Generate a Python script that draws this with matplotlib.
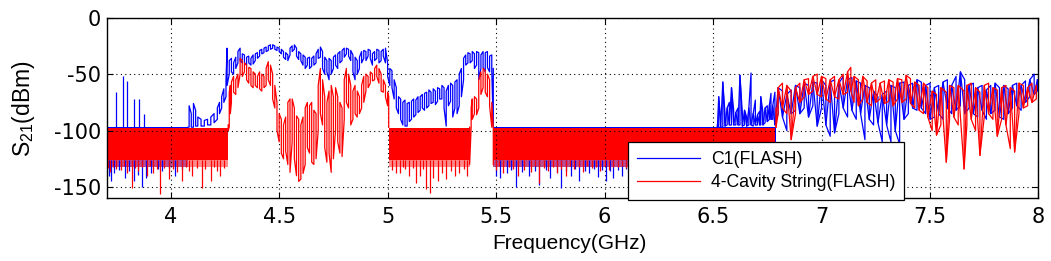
import numpy as np
import matplotlib
matplotlib.use("Agg")
import matplotlib.pyplot as plt

plt.rcParams['font.family'] = ['Liberation Sans', 'DejaVu Sans']
plt.rcParams['mathtext.default'] = 'regular'

BLUE = (0.0, 0.0, 1.0)
RED = (1.0, 0.0, 0.0)

LABEL_C1 = "C1(FLASH)"
LABEL_4C = "4-Cavity String(FLASH)"
XLABEL = "Frequency(GHz)"
YLABEL = r"S$_{21}$(dBm)"
XTICKS = [4, 4.5, 5, 5.5, 6, 6.5, 7, 7.5, 8]
XTICKLABELS = ["4", "4.5", "5", "5.5", "6", "6.5", "7", "7.5", "8"]
YTICKS = [0, -50, -100, -150]
YTICKLABELS = ["0", "-50", "-100", "-150"]
XLIM = (3.705, 8.0)
YLIM = (-160, 0)

# ---------------- C1 (FLASH), blue ----------------
c1_floor_segments = [(3.705, 4.08), (5.487, 6.52), (6.52, 6.79)]
c1_floor_top = -96.5
c1_floor_bottom = -126.0
c1_floor_fringe = -132.0
c1_dip_f = [3.715, 3.725, 3.74, 3.76, 3.79, 3.81, 3.83, 3.85, 3.866, 3.885, 3.91, 3.94, 3.96, 3.99, 4.02, 4.05,
            5.50, 5.52, 5.55, 5.57, 5.593, 5.62, 5.65, 5.68, 5.70, 5.73, 5.75, 5.78, 5.80, 5.82, 5.845, 5.865,
            5.884, 5.91, 5.93, 5.95, 5.97, 5.99, 6.007, 6.025, 6.04, 6.06, 6.08, 6.10]
c1_dip_db = [-140, -145, -138, -135, -142, -136, -145, -139, -150, -142, -138, -134, -136, -133, -140, -134,
             -140, -142, -138, -135, -150, -137, -140, -136, -148, -135, -142, -137, -151, -136, -140, -134,
             -145, -136, -138, -134, -141, -135, -145, -136, -142, -135, -140, -134]
c1_spike_f = [3.75, 3.778, 3.80, 3.833, 3.856, 3.875]
c1_spike_db = [-66, -52, -56, -72, -72, -85]

c1_a_f = [4.080, 4.085, 4.095, 4.105, 4.115, 4.125, 4.14, 4.155, 4.17, 4.185, 4.20, 4.215, 4.225, 4.235, 4.245,
          4.255, 4.26, 4.27, 4.28, 4.29, 4.30, 4.31, 4.32, 4.33, 4.34, 4.35, 4.36, 4.37, 4.38, 4.39, 4.40,
          4.41, 4.42, 4.43, 4.44, 4.45, 4.46, 4.47, 4.48, 4.49, 4.50, 4.51, 4.52, 4.53, 4.54, 4.55, 4.56,
          4.57, 4.58, 4.59, 4.60, 4.61, 4.62, 4.63, 4.64, 4.65, 4.66, 4.67, 4.68, 4.69, 4.70, 4.71, 4.72,
          4.73, 4.74, 4.75, 4.76, 4.77, 4.78, 4.79, 4.80, 4.81, 4.82, 4.83, 4.84, 4.85, 4.86, 4.87, 4.88,
          4.89, 4.90, 4.91, 4.92, 4.93, 4.94, 4.95, 4.96, 4.97, 4.98, 4.99, 5.00, 5.01, 5.02, 5.03, 5.04,
          5.05, 5.06, 5.07, 5.08, 5.09, 5.10, 5.11, 5.12, 5.13, 5.14, 5.15, 5.16, 5.17, 5.18, 5.19, 5.20,
          5.21, 5.22, 5.23, 5.24, 5.25, 5.26, 5.27, 5.28, 5.29, 5.30, 5.31, 5.32, 5.33, 5.34, 5.35, 5.36,
          5.37, 5.38, 5.39, 5.40, 5.41, 5.42, 5.43, 5.44, 5.45, 5.46, 5.47, 5.48, 5.487]
c1_a_hi = [-97, -78, -85, -76, -82, -88, -90, -91, -90, -88, -85, -80, -75, -70, -63,
           -55, -27, -38, -36, -40, -35, -30, -27, -32, -33, -35, -34, -36, -33, -32, -31,
           -29, -28, -27, -26, -25, -24, -24, -25, -26, -27, -28, -30, -31, -33, -27, -25,
           -24, -27, -30, -32, -33, -35, -36, -35, -36, -34, -32, -28, -26, -30, -35, -38,
           -36, -38, -35, -33, -32, -30, -29, -27, -27, -28, -29, -33, -35, -38, -35, -30,
           -29, -30, -28, -29, -32, -30, -28, -29, -30, -28, -27, -40, -45, -47, -55, -62,
           -70, -72, -75, -73, -76, -75, -74, -72, -73, -70, -70, -68, -67, -66, -64, -66,
           -63, -65, -62, -63, -60, -62, -65, -60, -58, -60, -57, -55, -50, -45, -36, -33,
           -31, -32, -30, -32, -30, -31, -33, -30, -31, -30, -34, -33, -45]
c1_a_lo = [-97, -97, -97, -97, -96, -96, -96, -96, -95, -95, -93, -90, -85, -80, -75,
           -70, -60, -50, -48, -50, -45, -40, -38, -40, -40, -42, -40, -42, -41, -38, -36,
           -34, -32, -31, -30, -29, -28, -27, -28, -29, -30, -32, -35, -37, -38, -33, -30,
           -28, -34, -37, -38, -42, -45, -42, -45, -43, -42, -40, -36, -35, -45, -50, -48,
           -55, -50, -45, -42, -45, -40, -38, -35, -32, -34, -38, -48, -55, -50, -45, -40,
           -36, -38, -34, -36, -42, -38, -36, -40, -38, -34, -40, -52, -60, -62, -72, -80,
           -85, -90, -95, -96, -96, -92, -90, -88, -86, -84, -82, -80, -82, -80, -78, -76,
           -75, -77, -74, -72, -72, -80, -96, -78, -74, -88, -80, -85, -78, -70, -55, -42,
           -40, -40, -38, -45, -42, -55, -45, -44, -48, -44, -48, -47, -97]

c1_b_f = [6.52, 6.526, 6.535, 6.545, 6.555, 6.565, 6.575, 6.585, 6.595, 6.605, 6.615, 6.624, 6.635, 6.645,
          6.655, 6.665, 6.675, 6.685, 6.695, 6.705, 6.715, 6.72, 6.73, 6.74, 6.75, 6.76, 6.767, 6.775, 6.785,
          6.80, 6.82, 6.84, 6.86, 6.88, 6.90, 6.92, 6.94, 6.96, 6.98, 7.00, 7.02, 7.04, 7.06, 7.08, 7.10,
          7.12, 7.14, 7.16, 7.18, 7.20, 7.22, 7.24, 7.26, 7.28, 7.30, 7.32, 7.34, 7.36, 7.38, 7.40, 7.42,
          7.44, 7.46, 7.48, 7.50, 7.52, 7.54, 7.56, 7.58, 7.60, 7.62, 7.64, 7.66, 7.68, 7.70, 7.72, 7.74,
          7.76, 7.78, 7.80, 7.82, 7.84, 7.86, 7.88, 7.90, 7.92, 7.94, 7.96, 7.98, 7.995]
c1_b_hi = [-95, -70, -90, -57, -85, -80, -75, -62, -82, -84, -80, -51, -85, -82,
           -88, -80, -49, -85, -73, -86, -83, -70, -84, -80, -78, -77, -67, -78, -66,
           -62, -65, -68, -64, -60, -62, -58, -60, -57, -58, -55, -60, -57, -55, -58, -52,
           -55, -53, -56, -58, -60, -62, -65, -70, -68, -65, -60, -62, -58, -57, -60, -58,
           -55, -57, -60, -58, -62, -60, -57, -55, -60, -52, -48, -55, -60, -58, -62, -60,
           -64, -60, -58, -62, -60, -63, -60, -58, -60, -56, -55, -50, -55]
c1_b_lo = [-97, -97, -97, -97, -96, -95, -95, -95, -95, -95, -95, -95, -96, -95,
           -96, -95, -95, -96, -95, -95, -95, -95, -95, -93, -92, -90, -90, -90, -95,
           -85, -88, -100, -85, -82, -85, -80, -88, -78, -96, -80, -95, -105, -102, -85, -80,
           -88, -82, -90, -85, -108, -90, -95, -93, -110, -95, -110, -100, -112, -90, -85, -80,
           -82, -80, -85, -90, -88, -85, -90, -80, -85, -82, -78, -85, -80, -85, -88, -82,
           -90, -85, -82, -88, -90, -85, -80, -78, -82, -75, -70, -68, -65]

# ---------------- 4-Cavity String (FLASH), red ----------------
r_floor_segments = [(3.705, 4.265), (5.005, 5.378), (5.487, 6.787)]
r_floor_top = -97.5
r_floor_bottom = -126.0
r_floor_fringe = -132.0
r_dip_f = [3.71, 3.72, 3.735, 3.75, 3.77, 3.785, 3.80, 3.82, 3.835, 3.85, 3.87, 3.89, 3.905, 3.92, 3.935,
           3.952, 3.97, 3.99, 4.01, 4.03, 4.05, 4.07, 4.085, 4.10, 4.12, 4.143, 4.16, 4.184, 4.20, 4.215, 4.227, 4.245,
           5.02, 5.04, 5.056, 5.07, 5.08, 5.10, 5.115, 5.13, 5.15, 5.165, 5.178, 5.194, 5.21, 5.23, 5.25, 5.27,
           5.29, 5.31, 5.33, 5.35, 5.366,
           5.50, 5.515, 5.53, 5.56, 5.58, 5.60, 5.63, 5.66, 5.68, 5.70, 5.72, 5.74, 5.76, 5.78, 5.80, 5.82,
           5.84, 5.86, 5.88, 5.90, 5.92, 5.94, 5.96, 5.98, 6.00, 6.02, 6.04, 6.06, 6.08, 6.10]
r_dip_db = [-133, -137, -132, -134, -135, -131, -138, -151, -133, -136, -132, -140, -131, -138, -134,
            -156, -133, -143, -134, -137, -145, -132, -136, -140, -133, -151, -134, -145, -132, -136, -140, -133,
            -135, -138, -138, -132, -134, -140, -133, -146, -140, -134, -152, -155, -142, -145, -138, -143,
            -136, -140, -138, -134, -140,
            -135, -131, -138, -132, -134, -140, -135, -137, -131, -146, -133, -136, -132, -138, -134, -140,
            -131, -134, -132, -137, -131, -133, -132, -136, -131, -135, -132, -132, -131, -133]

r_a_f = [4.265, 4.27, 4.275, 4.28, 4.29, 4.30, 4.31, 4.32, 4.33, 4.34, 4.35, 4.36, 4.37, 4.38, 4.39,
         4.40, 4.41, 4.42, 4.43, 4.44, 4.45, 4.46, 4.47, 4.48, 4.49, 4.50, 4.51, 4.52, 4.53, 4.54, 4.55,
         4.56, 4.57, 4.58, 4.59, 4.60, 4.61, 4.62, 4.63, 4.64, 4.65, 4.66, 4.67, 4.68, 4.69, 4.70, 4.71,
         4.72, 4.73, 4.74, 4.75, 4.76, 4.77, 4.78, 4.79, 4.80, 4.81, 4.82, 4.83, 4.84, 4.85, 4.86, 4.87,
         4.88, 4.89, 4.90, 4.91, 4.92, 4.93, 4.94, 4.95, 4.96, 4.97, 4.98, 4.99, 5.00, 5.005]
r_a_hi = [-95, -66, -60, -57, -52, -55, -50, -36, -38, -40, -42, -44, -45, -48, -50,
          -52, -48, -50, -52, -45, -39, -42, -50, -60, -75, -85, -90, -95, -88, -75, -72,
          -72, -80, -87, -90, -95, -88, -80, -75, -78, -75, -82, -85, -60, -45, -55, -70,
          -75, -65, -60, -70, -62, -70, -75, -80, -55, -45, -50, -60, -65, -60, -65, -70,
          -60, -52, -50, -52, -48, -50, -45, -42, -45, -50, -55, -60, -66, -70]
r_a_lo = [-100, -97, -85, -75, -66, -68, -62, -50, -52, -48, -55, -58, -60, -62, -60,
          -62, -63, -65, -62, -60, -55, -60, -72, -80, -100, -110, -120, -125, -118, -130, -137,
          -110, -125, -140, -145, -143, -138, -130, -115, -120, -128, -130, -125, -100, -85, -95, -115,
          -128, -120, -137, -125, -100, -110, -120, -123, -90, -75, -80, -95, -90, -85, -88, -85,
          -80, -75, -65, -62, -58, -56, -55, -52, -58, -65, -66, -70, -78, -97]

r_b_f = [5.378, 5.385, 5.39, 5.40, 5.41, 5.42, 5.43, 5.44, 5.45, 5.46, 5.47, 5.48, 5.487]
r_b_hi = [-97, -80, -72, -70, -72, -55, -48, -45, -47, -50, -55, -75, -97]
r_b_lo = [-130, -97, -90, -85, -86, -80, -68, -62, -66, -70, -78, -97, -130]

r_c_f = [6.79, 6.80, 6.82, 6.84, 6.86, 6.88, 6.90, 6.92, 6.94, 6.96, 6.98, 7.00, 7.02, 7.04, 7.06,
         7.08, 7.10, 7.12, 7.135, 7.15, 7.17, 7.19, 7.21, 7.23, 7.25, 7.27, 7.29, 7.31, 7.33, 7.35, 7.37,
         7.39, 7.41, 7.43, 7.45, 7.47, 7.49, 7.51, 7.53, 7.55, 7.575, 7.59, 7.61, 7.63, 7.657, 7.67, 7.69,
         7.71, 7.73, 7.75, 7.77, 7.79, 7.81, 7.83, 7.85, 7.87, 7.89, 7.91, 7.93, 7.95, 7.97, 7.99]
r_c_hi = [-80, -62, -58, -60, -65, -62, -58, -55, -54, -52, -50, -52, -54, -55, -52,
          -55, -50, -48, -44, -52, -55, -52, -56, -58, -55, -58, -56, -55, -57, -54, -55,
          -51, -54, -57, -60, -58, -62, -65, -68, -62, -66, -60, -62, -60, -65, -60, -58,
          -62, -66, -60, -58, -62, -64, -62, -60, -62, -65, -58, -60, -62, -58, -60]
r_c_lo = [-97, -85, -80, -85, -108, -85, -75, -70, -68, -65, -68, -70, -72, -75, -70,
          -72, -68, -66, -65, -75, -78, -72, -75, -78, -75, -72, -76, -74, -78, -72, -75,
          -72, -76, -80, -82, -85, -88, -100, -104, -95, -128, -90, -88, -95, -134, -95, -90,
          -100, -122, -88, -85, -90, -105, -90, -95, -116, -119, -85, -80, -78, -75, -72]


def comb_xy(f, hi, lo):
    """Trace that alternates between the upper and lower envelope at each sample."""
    f = np.asarray(f, float)
    hi = np.asarray(hi, float)
    lo = np.asarray(lo, float)
    xs = np.repeat(f, 2)
    ys = np.empty(2 * len(f))
    even = np.arange(len(f)) % 2 == 0
    ys[0::2] = np.where(even, hi, lo)
    ys[1::2] = np.where(even, lo, hi)
    return xs, ys


def zig_xy(f, hi, lo):
    """Second pass: hi at one sample, lo at the next, giving slanted strokes."""
    f = np.asarray(f, float)
    hi = np.asarray(hi, float)
    lo = np.asarray(lo, float)
    even = np.arange(len(f)) % 2 == 0
    return f, np.where(even, lo, hi)


fig = plt.figure(figsize=(10.51, 2.61), dpi=100)
ax = fig.add_axes([0.1015, 0.2402, 0.8866, 0.692])

LW = 0.9


def draw_signal(f, hi, lo, color, label=None, dense=False):
    x, y = comb_xy(f, hi, lo)
    ax.plot(x, y, color=color, lw=LW, label=label)
    if dense:
        xz, yz = zig_xy(f, hi, lo)
        ax.plot(xz, yz, color=color, lw=LW)


# ---- blue series ----
for (a, b) in c1_floor_segments:
    ax.fill_between([a, b], [c1_floor_bottom] * 2, [c1_floor_top] * 2, color=BLUE, lw=0)
    ax.fill_between([a, b], [c1_floor_fringe] * 2, [c1_floor_bottom] * 2, color=BLUE, lw=0, alpha=0.45)
ax.vlines(c1_dip_f, c1_floor_bottom, c1_dip_db, color=BLUE, lw=LW)
ax.vlines(c1_spike_f, c1_floor_top, c1_spike_db, color=BLUE, lw=LW)
draw_signal(c1_a_f, c1_a_hi, c1_a_lo, BLUE, label=LABEL_C1)
draw_signal(c1_b_f, c1_b_hi, c1_b_lo, BLUE, dense=True)

# ---- red series ----
for (a, b) in r_floor_segments:
    ax.fill_between([a, b], [r_floor_bottom] * 2, [r_floor_top] * 2, color=RED, lw=0)
    ax.fill_between([a, b], [r_floor_fringe] * 2, [r_floor_bottom] * 2, color=RED, lw=0, alpha=0.45)
ax.vlines(r_dip_f, r_floor_bottom, r_dip_db, color=RED, lw=LW)
draw_signal(r_a_f, r_a_hi, r_a_lo, RED, label=LABEL_4C)
draw_signal(r_b_f, r_b_hi, r_b_lo, RED)
draw_signal(r_c_f, r_c_hi, r_c_lo, RED, dense=True)

ax.set_xlim(*XLIM)
ax.set_ylim(*YLIM)
ax.set_xticks(XTICKS)
ax.set_xticklabels(XTICKLABELS, family=['DejaVu Sans'])
ax.set_yticks(YTICKS)
ax.set_yticklabels(YTICKLABELS, family=['DejaVu Sans'])
ax.tick_params(direction='in', top=True, right=True, length=4, width=0.8, labelsize=15)
ax.tick_params(axis='x', pad=6)
ax.tick_params(axis='y', pad=4)
ax.grid(True, color='black', linestyle=(0, (1, 3)), linewidth=0.8)
for s in ax.spines.values():
    s.set_linewidth(1.0)

ax.set_xlabel(XLABEL, fontsize=15)
ax.xaxis.set_label_coords(0.4967, -0.20)
ax.set_ylabel(YLABEL, fontsize=16.5)
ax.yaxis.set_label_coords(-0.075, 0.496)

leg = ax.legend(loc='lower left', bbox_to_anchor=(0.5595, -0.0094), borderaxespad=0,
                fontsize=12.7, frameon=True, fancybox=False, shadow=False,
                handlelength=3.6, handletextpad=0.6, borderpad=0.5, labelspacing=0.35)
leg.get_frame().set_edgecolor('black')
leg.get_frame().set_linewidth(0.9)
leg.get_frame().set_alpha(1.0)

fig.savefig("out.png", dpi=100)
